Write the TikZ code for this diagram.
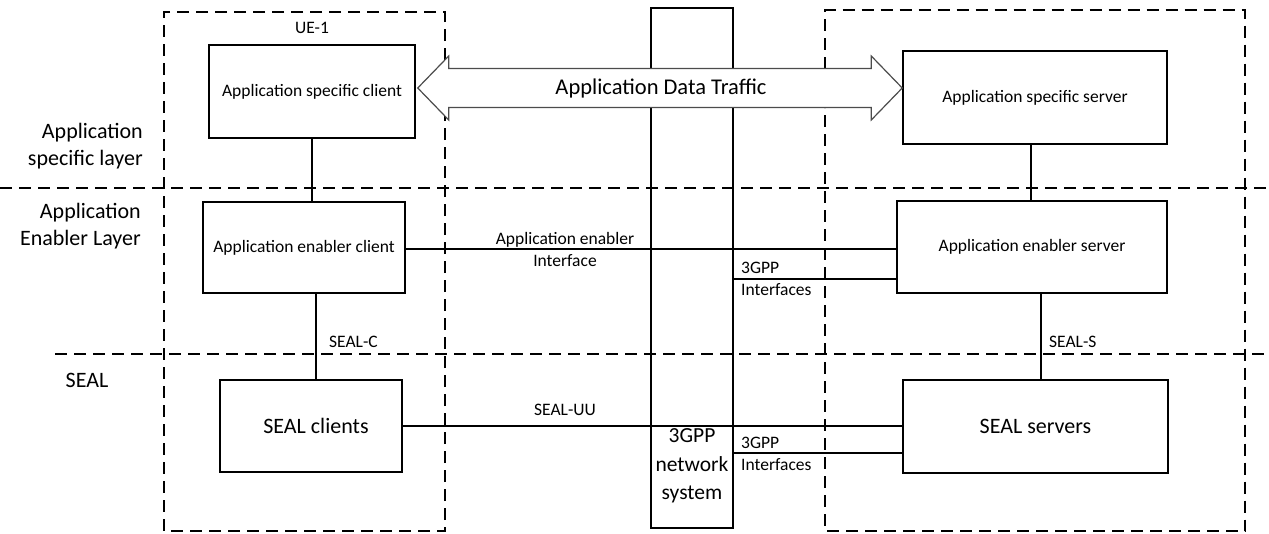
\documentclass[tikz,border=0pt]{standalone}
\usepackage{fontspec}
\setmainfont{Carlito}
\usetikzlibrary{calc}
\begin{document}
\begin{tikzpicture}[x=1pt,y=-1pt,
  box/.style={draw, line width=1.5pt, fill=white, inner sep=0pt, font=\fontsize{17.5}{20}\selectfont, align=center},
  conn/.style={line width=1.5pt},
  dsh/.style={line width=1.4pt, dash pattern=on 12pt off 7pt},
  lbl/.style={font=\fontsize{17.5}{22}\selectfont, inner sep=0pt},
  big/.style={font=\fontsize{22}{27}\selectfont, inner sep=0pt},
  fat/.style={draw=black!70, line width=1.2pt, fill=white, line join=miter}]
\useasboundingbox (0,0) rectangle (1269,533);
% boxes
\node[box, minimum width=206pt, minimum height=93pt] (asc) at (312,91.5) {Application specific client};
\node[box, minimum width=202pt, minimum height=91pt] (enc) at (304,247.5) {Application enabler client};
\node[box, minimum width=182pt, minimum height=92pt, font=\fontsize{22}{24}\selectfont] (sc) at (311,426) {\hspace*{10pt}SEAL clients};
\node[box, minimum width=264pt, minimum height=93pt] (ass) at (1035,97.5) {Application specific server};
\node[box, minimum width=270pt, minimum height=92pt] (ens) at (1032,247) {Application enabler server};
\node[box, minimum width=265pt, minimum height=93pt, font=\fontsize{22}{24}\selectfont] (ss) at (1035.5,426.5) {SEAL servers};
% arrow reference points
\coordinate (tl) at ($(asc.east)+(2,-3.5)$);
\coordinate (tr) at ($(ass.west)+(0,-9.5)$);
\coordinate (st) at ($(tl)+(0,-19.5)$);
\coordinate (sb) at ($(tl)+(0,19.5)$);
% dashed layer lines and domain boxes (interrupted by the traffic arrow)
\draw[dsh] (0,188) -- (1269,188);
\draw[dsh] (55,354) -- (1269,354);
\draw[dsh] (445,60) -- (445,12) -- (164,12) -- (164,531) -- (445,531) -- (445,116);
\draw[dsh] (825,68.5) -- (825,10) -- (1245,10) -- (1245,531) -- (825,531) -- (825,107.5);
% 3GPP network box
\node[inner sep=0pt, minimum width=82pt, minimum height=520pt] (net) at (692,268) {};
\draw[conn] (net.west |- st) -- (net.north west) -- (net.north east) -- (net.east |- st);
\draw[conn] (net.west |- sb) -- (net.south west) -- (net.south east) -- (net.east |- sb);
\node[big, align=center, font=\fontsize{21.5}{28.5}\selectfont] (nettext) at (692,466) {3GPP\\network\\system};
% traffic double arrow between the two application specific boxes
\draw[fat] (tl) -- ++(31,-32) -- ++(0,12.5) -- ($(tr)+(-31,-19.5)$) -- ++(0,-12.5) -- (tr)
  -- ++(-31,32) -- ++(0,-12.5) -- ($(tl)+(31,19.5)$) -- ++(0,12.5) -- cycle;
\node[big, font=\fontsize{22.5}{26}\selectfont] (traffic) at ($(tl)!0.5!(tr)+(1,0)$) {Application Data Traffic};
% vertical connectors
\draw[conn] (asc.south) -- (asc.south |- enc.north);
\draw[conn] ([xshift=-4pt]ass.south) -- ([xshift=-4pt]ass.south |- ens.north);
\draw[conn] ([xshift=5pt]sc.north) -- ([xshift=5pt]sc.north |- enc.south);
\draw[conn] ([xshift=5.5pt]ss.north) -- ([xshift=5.5pt]ss.north |- ens.south);
% horizontal connectors
\draw[conn] ([yshift=-1.5pt]enc.east) -- ([yshift=-1.5pt]enc.east -| ens.west);
\coordinate (g1) at ([yshift=-32pt]ens.west);
\draw[conn] (g1) -- (g1 -| net.east);
\draw[conn] (sc.east) -- (sc.east -| ss.west);
\coordinate (g2) at ([yshift=-26.5pt]ss.west);
\draw[conn] (g2) -- (g2 -| net.east);
% labels
\node[lbl] (ue) at (312,28) {UE-1};
\node[lbl, align=center] (aei) at (565,249) {Application enabler\\Interface};
\node[lbl, anchor=west, align=left] (if1) at (741,279) {3GPP\\Interfaces};
\node[lbl, anchor=west, align=left] (if2) at (741,453.5) {3GPP\\Interfaces};
\node[lbl] (sealuu) at (565,410) {SEAL-UU};
\node[lbl, anchor=west] (sealc) at (329,342) {SEAL-C};
\node[lbl, anchor=west] (seals) at (1049,342) {SEAL-S};
\node[big, anchor=east, align=right] (l1) at (143,146.5) {Application\\specific layer};
\node[big, anchor=east, align=right] (l2) at (141,226.5) {Application\\Enabler Layer};
\node[big] (l3) at (87,380) {SEAL};
\end{tikzpicture}
\end{document}
